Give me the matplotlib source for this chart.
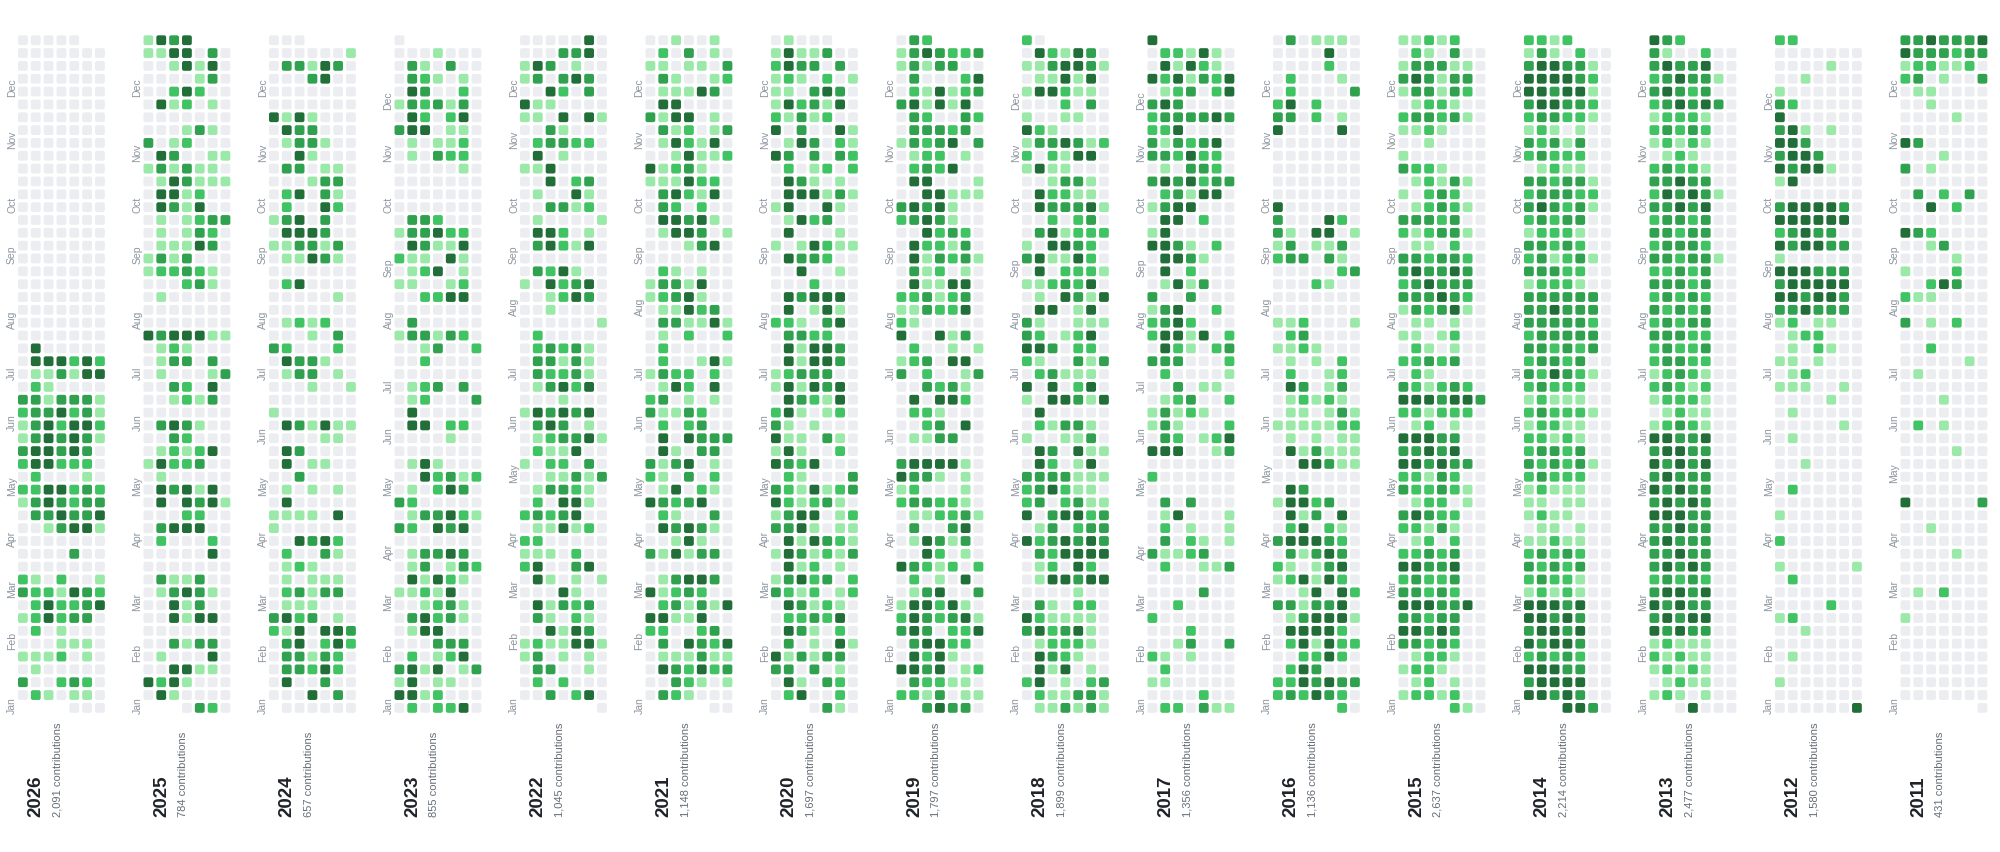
import datetime
import matplotlib
matplotlib.use("Agg")
import matplotlib.pyplot as plt
from matplotlib.patches import FancyBboxPatch
from matplotlib.collections import PatchCollection

plt.rcParams['font.family'] = ['Liberation Sans', 'DejaVu Sans']

years = [2026, 2025, 2024, 2023, 2022, 2021, 2020, 2019, 2018, 2017,
         2016, 2015, 2014, 2013, 2012, 2011]
totals = ["2,091", "784", "657", "855", "1,045", "1,148", "1,697", "1,797",
          "1,899", "1,356", "1,136", "2,637", "2,214", "2,477", "1,580", "431"]
month_names = ["Jan", "Feb", "Mar", "Apr", "May", "Jun",
               "Jul", "Aug", "Sep", "Oct", "Nov", "Dec"]
level_colors = ["#ebedf0", "#9be9a8", "#40c463", "#30a14e", "#216e39"]

# contribution level per day, one string per week (Sun..Sat),
# listed from the last week of December (top) down to the first week of January
weeks_2026 = ["00000.."] + ["0000000"] * 23 + [
    "0400000", "0444242", "0113144", "0210000", "3313331", "2334231",
    "1342442", "1343431", "3443430", "2442220", "0200010", "2244232",
    "1343233", "0334334", "0013441", "0000000", "0000300", "0000000",
    "2102001", "3221432", "0242234", "1242330", "0201000", "0001110",
    "1112010", "0100000", "3002320", "0210110", "....000"]
weeks_2025 = [
    "1434...", "1144030", "0014140", "0000130", "0024200", "0412010",
    "0000000", "0001310", "3012000", "0430011", "1313110", "0143111",
    "0441200", "0431400", "0101233", "0101320", "0111430", "1313000",
    "1223210", "0002310", "0100000", "0000000", "0000000", "4344411",
    "0121000", "0133030", "0100013", "0032040", "0012130", "0000000",
    "0343100", "0032000", "0121240", "1422300", "0100000", "0434140",
    "0404341", "0002200", "0344400", "0200020", "0000040", "0000000",
    "0311300", "0134310", "0041300", "0041440", "0000000", "0031330",
    "0100040", "0044110", "4241000", "0410000", "...0320"]
weeks_2024 = [
    "000....", "0000001", "0331430", "0003400", "0000000", "0000000",
    "4141000", "0433000", "0133100", "0041000", "0330110", "0001330",
    "0240310", "0200420", "1340300", "0444300", "1133130", "0114310",
    "0000000", "0240000", "0000010", "0000000", "0121200", "0001030",
    "3200020", "0433100", "0133010", "0001001", "0000000", "1000000",
    "0431411", "0000110", "0430000", "0401100", "0030000", "0101010",
    "0400000", "1111040", "1000000", "0043420", "0200310", "0121000",
    "0101110", "0231330", "0111000", "3423010", "2140443", "0340242",
    "0331320", "0332420", "0400300", "0004030", ".000000"]
weeks_2023 = [
    "0......", "0001000", "0310300", "0321010", "0430020", "1323130",
    "0420240", "3440110", "0101120", "0103220", "0000010", "0000000",
    "0000000", "0000000", "0332000", "1334220", "0431140", "2110410",
    "0124010", "1100120", "0022440", "0000000", "0300000", "1331320",
    "0013002", "0020000", "0000000", "0123030", "0120003", "0400000",
    "0440220", "0000100", "0000000", "0141000", "0042312", "0102430",
    "3200000", "0133421", "3204340", "0000000", "0133430", "0130132",
    "0414210", "1121400", "0012310", "0342310", "0144000", "0003330",
    "0201240", "3414013", "1401100", "4412000", "0202240"]
weeks_2022 = [
    "0000040", "0003340", "1430100", "1303430", "0042030", "4110000",
    "1104041", "0031000", "0233220", "0401000", "1140000", "0040230",
    "0100410", "0033120", "0100001", "0442010", "0342140", "0000000",
    "0324100", "1042340", "0012430", "0010000", "0000001", "0200000",
    "0232310", "0331310", "0322310", "0134240", "0001000", "1434340",
    "0343010", "0123341", "0211400", "1022030", "0011313", "0133210",
    "0204410", "2323400", "0114120", "2200000", "1110200", "2400340",
    "0410101", "0004100", "0413230", "0310210", "0041430", "1211441",
    "1301010", "0330010", "0202000", "0030240", "......0"]
weeks_2021 = [
    "001001.", "0203010", "1101103", "0310012", "0111430", "0440000",
    "3144010", "0312013", "0142140", "0014112", "4123100", "1114220",
    "0342140", "0320200", "0443410", "0144301", "0001340", "0000000",
    "0210100", "1331400", "1234100", "0114230", "0331141", "0102002",
    "0200000", "0200141", "1322020", "0142040", "2301010", "3113200",
    "0202300", "0404333", "0410330", "3134010", "2103020", "0140210",
    "4323400", "0210030", "0434310", "0014100", "3141330", "0000000",
    "0134430", "4123200", "0231314", "4411400", "2200230", "0304324",
    "0111311", "0432423", "0032101", "0321000", ".....00"]
weeks_2020 = [
    "01000..", "1411300", "2433030", "1210201", "1103430", "1423140",
    "2131200", "4030041", "0143021", "4303032", "0201202", "0431010",
    "0444131", "1400410", "0142300", "0400010", "1014211", "0433200",
    "0040010", "0002000", "0434440", "0401410", "2210340", "0332200",
    "0414430", "0414430", "1233300", "1414340", "0432140", "2410120",
    "3101000", "4110310", "1410020", "4324000", "0210003", "3214123",
    "4212310", "1344012", "3341011", "0414321", "1431213", "0412010",
    "1342302", "3212012", "0431210", "0223240", "0431020", "0301041",
    "4131330", "3303010", "0410320", "0240020", "...0310"]
weeks_2019 = [
    "032....", "1343223", "1313300", "0300024", "0214123", "3414140",
    "0320032", "0333230", "1323403", "0122010", "0232400", "0440001",
    "0044111", "3434100", "2343100", "0042320", "0422130", "0413231",
    "0312010", "0411440", "2231230", "1132240", "2100000", "4004130",
    "0200101", "1230440", "3020013", "0032310", "0404420", "0221000",
    "0023040", "0113300", "0000000", "3444410", "4331010", "1200010",
    "2332210", "0112231", "0300340", "0143130", "0042010", "4321202",
    "0201040", "0134003", "1442410", "2432341", "3430224", "0344220",
    "0424100", "4434012", "0322110", "2213011", "..34330"]
weeks_2018 = [
    "20.....", "0421430", "1134431", "0114140", "1442110", "0002030",
    "1001100", "4210000", "1334312", "2021440", "1411000", "0013310",
    "0422110", "0433341", "0020230", "0341222", "1044320", "3411420",
    "0402221", "1123240", "0104314", "0440140", "3100111", "3201240",
    "4430220", "2100313", "0231110", "4040240", "1044314", "0400000",
    "0213310", "1001130", "0430411", "0420140", "3333111", "2342110",
    "2302311", "4034423", "0130233", "4234343", "0324444", "0120420",
    "0144344", "0000100", "0310220", "4211110", "3423410", "0122210",
    "0432100", "0414010", "2401023", "0211331", ".113131"]
weeks_2017 = [
    "4......", "0221410", "0414210", "4241324", "0123024", "3430000",
    "2333343", "2240000", "3132340", "3324220", "0103320", "3434233",
    "0231440", "1344000", "0440200", "1400000", "4431020", "0443100",
    "0402000", "0141300", "3003000", "1340020", "2342000", "2441402",
    "0421023", "3330002", "0200001", "0030110", "0123002", "1312100",
    "1310002", "0320124", "4440013", "0000000", "2000000", "0000000",
    "0303000", "0140001", "0201001", "0302101", "3112300", "0200113",
    "0000000", "0000300", "0020000", "2000000", "0002000", "0013003",
    "2101000", "0200000", "1100000", "0000200", "0220311"]
weeks_2016 = [
    "0301110", "0000400", "0000200", "0200010", "0200003", "2402000",
    "3302010", "4000040", "0000000", "0000000", "0000000", "0000000",
    "0000000", "4000000", "3000420", "3104401", "1301130", "2330310",
    "0000023", "0002100", "0000000", "0000000", "1120001", "0230000",
    "1121000", "0101020", "0200120", "0430130", "0121210", "0110131",
    "1111122", "0101011", "0413111", "0044311", "0000000", "0430000",
    "1442300", "0413040", "0240210", "3444320", "0313430", "2101340",
    "1241420", "0014042", "3313340", "0134441", "0444420", "0241422",
    "0022420", "0243000", "2243433", "2324320", ".....20"]
# the five oldest years are read off the small view only (rough)
weeks_2015 = [
    "11212..", "0210300", "1333110", "3431330", "1331320", "0122100",
    "2332310", "1121000", "0010000", "1000000", "3221000", "0121310",
    "1023200", "0123210", "3332300", "2123310", "0110200", "3323320",
    "3433430", "2343330", "3334320", "1323410", "0110100", "1101200",
    "0210100", "2232300", "0210000", "3212320", "4443443", "2212220",
    "0120100", "4443300", "3343400", "4434330", "2213200", "3223210",
    "0122010", "3432200", "2213100", "0120200", "2232300", "4433400",
    "2322300", "3323200", "4443340", "3323300", "4434300", "3323200",
    "0122100", "1221000", "0120100", "1221200", "....210"]
weeks_2014 = [
    "2212...", "1310200", "3443310", "4444320", "4434410", "3443320",
    "2332210", "1210100", "3231300", "2322200", "0121100", "3323310",
    "2333220", "3432310", "2323300", "1222100", "3323200", "2312310",
    "3332200", "1222100", "3333330", "3343330", "3333320", "2333330",
    "3323230", "2332300", "3243210", "2322200", "1211100", "2322210",
    "1221100", "2212100", "2332300", "3232310", "2322200", "1211100",
    "1101100", "1211000", "0110100", "1121100", "2323200", "3232300",
    "2322100", "1212100", "4443400", "4434300", "3443400", "4344300",
    "2323200", "4443300", "3444400", "4434300", "...4430"]
weeks_2013 = [
    "432....", "3100200", "3433400", "2343310", "3432300", "2343430",
    "1222100", "2323200", "1212100", "0121000", "2322100", "3343300",
    "2434310", "3343400", "2332300", "3323300", "2333200", "3323310",
    "2232300", "3332300", "2323200", "3232300", "2323300", "3332200",
    "2322300", "2332200", "1232100", "2321200", "1222100", "0121100",
    "1232100", "4433400", "3443300", "4343400", "3433300", "4343300",
    "3434300", "4443300", "3343300", "3433300", "3343300", "3434300",
    "2323200", "3443400", "4343300", "3434400", "4343300", "1211100",
    "2121100", "1212100", "0121100", "1210100", "..04000"]
weeks_2012 = [
    "22.....", "0000000", "0000100", "0010000", "1000000", "3200000",
    "4000000", "3410100", "4430000", "3443000", "4344100", "1400000",
    "0000000", "3444430", "4444440", "2343300", "4344330", "1000000",
    "4443330", "3444440", "4434430", "3343330", "1201100", "0122000",
    "0102100", "1101000", "0120000", "1110010", "0000100", "0100000",
    "0000010", "0100000", "0000000", "0010000", "0000000", "0200000",
    "0000000", "1000000", "0000000", "2000000", "0000000", "1000001",
    "0200000", "0000000", "0000200", "1200000", "0010000", "0000000",
    "0100000", "0000000", "1000000", "0000000", "0000004"]
weeks_2011 = [
    "3343334", "4333233", "1221120", "2301003", "0110000", "0010000",
    "0000100", "0000000", "4300000", "0001000", "3010000", "0000000",
    "0302030", "0040200", "0000000", "4320000", "0013000", "0000100",
    "1000200", "0024300", "2110000", "0000000", "3010200", "0000000",
    "0020000", "0000010", "0100000", "0000000", "0001000", "0000000",
    "0201000", "0000000", "0000100", "0000000", "0000000", "0000000",
    "4000003", "0000000", "0010000", "0000000", "0000100", "0000000",
    "0000000", "0102000", "0000000", "1000000", "0000000", "0000000",
    "0000000", "0000000", "0000000", "0000000", "......0"]

all_weeks = [weeks_2026, weeks_2025, weeks_2024, weeks_2023, weeks_2022,
             weeks_2021, weeks_2020, weeks_2019, weeks_2018, weeks_2017,
             weeks_2016, weeks_2015, weeks_2014, weeks_2013, weeks_2012,
             weeks_2011]

fig = plt.figure(figsize=(20, 8.53), dpi=100)
ax = fig.add_axes([0, 0, 1, 1])
ax.set_xlim(0, 2000)
ax.set_ylim(853, 0)
ax.axis("off")

col_step = 125.5
pitch = 12.84
cell = 9.8
first_x = 18
bottom_y = 704

patches = []
colors = []
for i, (year, weeks) in enumerate(zip(years, all_weeks)):
    x0 = first_x + i * col_step
    jan1 = datetime.date(year, 1, 1)
    offset = (jan1.weekday() + 1) % 7
    ndays = (datetime.date(year + 1, 1, 1) - jan1).days
    nweeks = len(weeks)
    for k in range(ndays):
        wk, dow = divmod(k + offset, 7)
        level = int(weeks[nweeks - 1 - wk][dow])
        x = x0 + dow * pitch
        y = bottom_y - wk * pitch
        patches.append(FancyBboxPatch((x, y), cell, cell,
                                      boxstyle="round,pad=0,rounding_size=2"))
        colors.append(level_colors[level])

    # month labels, starting at the first week of each month
    for m, name in enumerate(month_names):
        k = (datetime.date(year, m + 1, 1) - jan1).days
        wk = (k + offset) // 7
        ax.text(x0 - 6, bottom_y + cell - wk * pitch, name, rotation=90,
                rotation_mode="anchor", ha="left", va="center",
                fontsize=7.5, color="#8c959f")

    ax.text(x0 + 18, 817, str(year), rotation=90, rotation_mode="anchor",
            ha="left", va="center", fontsize=13.5, fontweight="bold",
            color="#1f2328")
    ax.text(x0 + 39.5, 817, totals[i] + " contributions", rotation=90,
            rotation_mode="anchor", ha="left", va="center", fontsize=8,
            color="#656d76")

ax.add_collection(PatchCollection(patches, facecolors=colors,
                                  edgecolors="none"))

fig.savefig("out.png", dpi=100, facecolor="white")
